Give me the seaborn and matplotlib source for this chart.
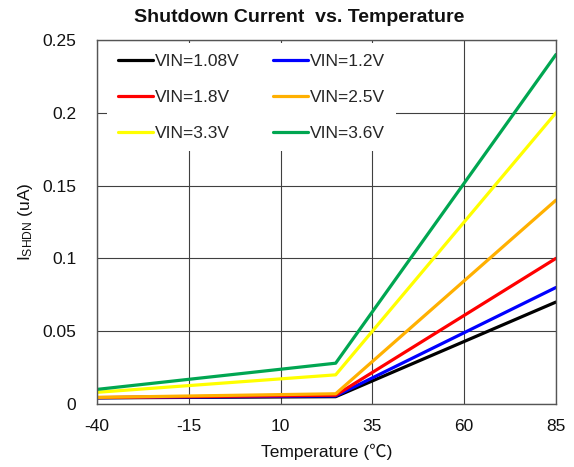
import matplotlib
matplotlib.use("Agg")
import matplotlib.pyplot as plt
import seaborn as sns
import pandas as pd

temps = [-40, 25, 85]
series_names = ["VIN=1.08V", "VIN=1.2V", "VIN=1.8V", "VIN=2.5V", "VIN=3.3V", "VIN=3.6V"]
vin_108 = [0.0042, 0.005, 0.07]
vin_12 = [0.0043, 0.0055, 0.08]
vin_18 = [0.0044, 0.006, 0.10]
vin_25 = [0.0045, 0.007, 0.14]
vin_33 = [0.0080, 0.020, 0.20]
vin_36 = [0.0100, 0.028, 0.24]
colors = ["#000000", "#0000FF", "#FF0000", "#FFB000", "#FFFF00", "#00A651"]
xticks = [-40, -15, 10, 35, 60, 85]
yticks = [0, 0.05, 0.1, 0.15, 0.2, 0.25]
ytick_labels = ["0", "0.05", "0.1", "0.15", "0.2", "0.25"]

rows = []
for name, vals in zip(series_names, [vin_108, vin_12, vin_18, vin_25, vin_33, vin_36]):
    for t, v in zip(temps, vals):
        rows.append({"Temperature": t, "I": v, "VIN": name})
df = pd.DataFrame(rows)

sns.set_theme(style="white")
plt.rcParams['font.family'] = ['Liberation Sans', 'Noto Sans CJK SC', 'DejaVu Sans']
plt.rcParams['mathtext.default'] = 'regular'

fig = plt.figure(figsize=(5.74, 4.67), dpi=100)
ax = fig.add_axes([0.169, 0.135, 0.7996, 0.7794])

sns.lineplot(data=df, x="Temperature", y="I", hue="VIN", hue_order=series_names,
             palette=colors, linewidth=2.3, ax=ax, legend=True)

ax.set_xlim(-40, 85)
ax.set_ylim(0, 0.25)
ax.set_xticks(xticks)
ax.set_xticklabels([str(x) for x in xticks], fontsize=12.5)
ax.set_yticks(yticks)
ax.set_yticklabels(ytick_labels, fontsize=12.5)
ax.tick_params(axis='y', length=0, pad=15, colors='#111111')
ax.tick_params(axis='x', length=0, pad=11, colors='#111111')
ax.grid(True, color='#404040', linewidth=0.8)
ax.set_axisbelow(True)
for s in ax.spines.values():
    s.set_color('#555555')
    s.set_linewidth(1.0)

ax.set_xlabel("Temperature (\u2103)", fontsize=12.5, labelpad=7, color='#111111')
ax.set_ylabel(r"I$_{SHDN}$ (uA)", fontsize=12.5, labelpad=5, color='#111111')
fig.text(0.521, 0.963, "Shutdown Current  vs. Temperature", fontsize=14,
         fontweight='bold', ha='center', va='center', color='#111111')

handles, labels = ax.get_legend_handles_labels()
order = [0, 2, 4, 1, 3, 5]
leg = ax.legend([handles[i] for i in order], [labels[i] for i in order],
                loc='upper left', bbox_to_anchor=(0.015, 1.0), ncol=2, frameon=True,
                fontsize=12.5, handlelength=2.0, handletextpad=0.15, columnspacing=1.9,
                labelspacing=1.2, borderaxespad=0.2, borderpad=0.6)
leg.get_frame().set_facecolor('white')
leg.get_frame().set_edgecolor('none')
leg.get_frame().set_alpha(1.0)
for line in leg.get_lines():
    line.set_linewidth(2.3)

fig.savefig("out.png", dpi=100)
